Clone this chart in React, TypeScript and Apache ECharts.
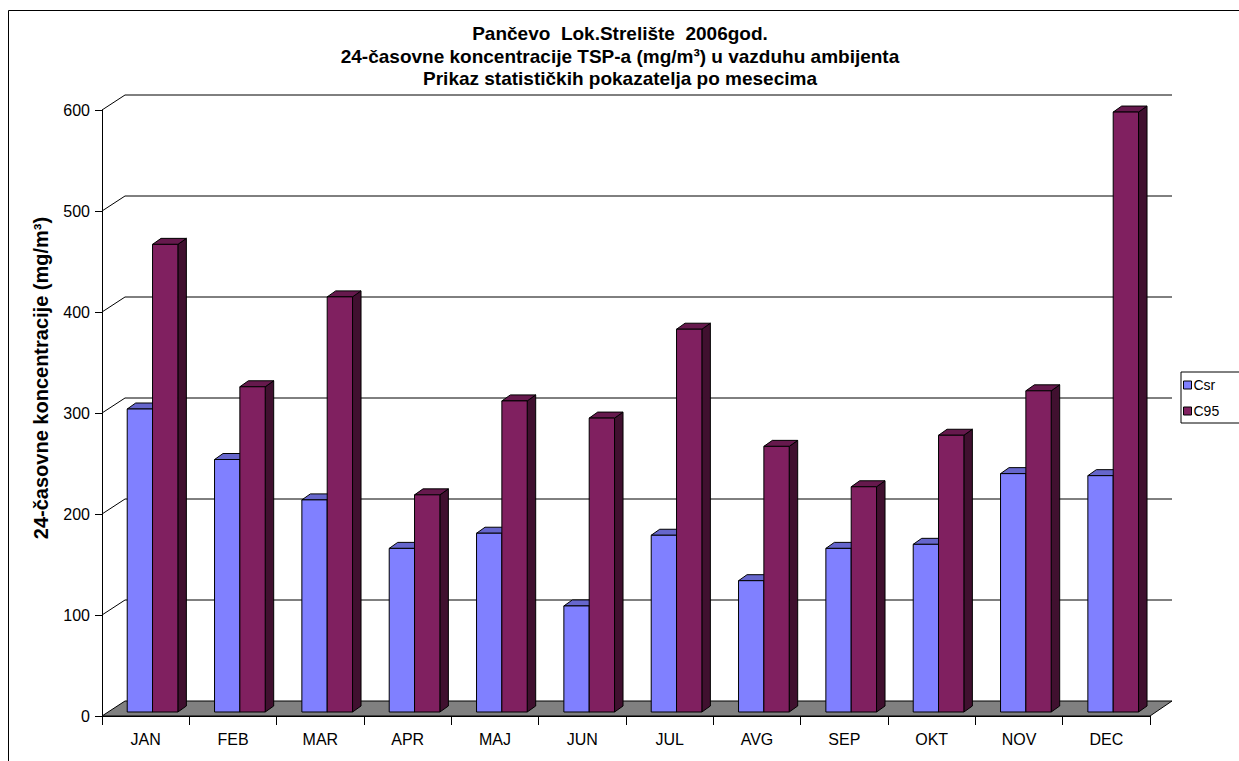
import React, { useEffect, useRef } from "react";
import * as echarts from "echarts";

const CATEGORIES = ["JAN", "FEB", "MAR", "APR", "MAJ", "JUN", "JUL", "AVG", "SEP", "OKT", "NOV", "DEC"];
const CSR = [300, 250, 210, 162, 177, 105, 175, 130, 162, 166, 236, 234];
const C95 = [463, 322, 411, 215, 308, 291, 379, 263, 223, 274, 318, 594];
const GRID_VALUES = [100, 200, 300, 400, 500, 600];
const TITLE_LINES = [
  "Pančevo  Lok.Strelište  2006god.",
  "24-časovne koncentracije TSP-a (mg/m³) u vazduhu ambijenta",
  "Prikaz statističkih pokazatelja po mesecima",
];
const Y_NAME = "24-časovne koncentracije (mg/m³)";

const FONT = "'Liberation Sans', Arial, sans-serif";
const WALL_DX = 23;
const WALL_DY = -15;
const PLANE_DX = 6.3;
const PLANE_DY = -4;
const BAR_DX = 8.5;
const BAR_DY = -6;

const SERIES_STYLE = [
  { front: "#8080FF", top: "#6666CC", side: "#404080" },
  { front: "#802060", top: "#66194D", side: "#40102F" },
];

function barRenderer(sIdx: number) {
  const c = SERIES_STYLE[sIdx];
  return (params: any, api: any) => {
    const cs = params.coordSys;
    const idx = api.value(0);
    const v = api.value(1);
    const bw = cs.width / CATEGORIES.length;
    const w = bw * 0.29;
    const x0 = cs.x + idx * bw + bw * 0.2165 + PLANE_DX + sIdx * w;
    const base = api.coord([idx, 0])[1] + PLANE_DY;
    const top = api.coord([idx, v])[1] + PLANE_DY;
    const stroke = { stroke: "#000", lineWidth: 1 };
    return {
      type: "group",
      children: [
        {
          type: "polygon",
          shape: { points: [[x0 + w, top], [x0 + w + BAR_DX, top + BAR_DY], [x0 + w + BAR_DX, base + BAR_DY], [x0 + w, base]] },
          style: { fill: c.side, ...stroke },
        },
        {
          type: "polygon",
          shape: { points: [[x0, top], [x0 + BAR_DX, top + BAR_DY], [x0 + w + BAR_DX, top + BAR_DY], [x0 + w, top]] },
          style: { fill: c.top, ...stroke },
        },
        {
          type: "rect",
          shape: { x: x0, y: top, width: w, height: base - top },
          style: { fill: c.front, ...stroke },
        },
      ],
    };
  };
}

export default function App() {
  const ref = useRef<HTMLDivElement>(null);
  useEffect(() => {
    if (!ref.current) return;
    const chart = echarts.init(ref.current, undefined, { renderer: "svg" });
    const option: any = {
      animation: false,
      backgroundColor: "#fff",
      grid: { left: 102, top: 110, width: 1048, height: 606 },
      xAxis: {
        type: "category",
        data: CATEGORIES,
        boundaryGap: true,
        axisLine: { show: true, lineStyle: { color: "#000", width: 1 } },
        axisTick: { show: true, length: 9, lineStyle: { color: "#000" } },
        axisLabel: { color: "#000", fontSize: 16, fontFamily: FONT, margin: 15 },
        splitLine: { show: false },
      },
      yAxis: {
        type: "value",
        min: 0,
        max: 600,
        interval: 100,
        axisLine: { show: true, lineStyle: { color: "#000", width: 1 } },
        axisTick: { show: true, length: 7, lineStyle: { color: "#000" } },
        axisLabel: { color: "#000", fontSize: 16, fontFamily: FONT, margin: 12 },
        splitLine: { show: false },
      },
      legend: {
        data: [
          { name: "Csr", itemStyle: { color: SERIES_STYLE[0].front } },
          { name: "C95", itemStyle: { color: SERIES_STYLE[1].front } },
        ],
        orient: "vertical",
        left: 1181,
        top: 372,
        icon: "rect",
        itemWidth: 8,
        itemHeight: 8,
        itemGap: 12,
        padding: [6, 40, 5, 2],
        borderColor: "#000",
        borderWidth: 1,
        backgroundColor: "#fff",
        itemStyle: { borderColor: "#000", borderWidth: 1 },
        textStyle: { color: "#000", fontSize: 14, fontFamily: FONT, padding: [0, 0, 0, -3] },
      },
      graphic: [
        {
          type: "rect",
          silent: true,
          z: -10,
          shape: { x: 8.5, y: 10.5, width: 1300, height: 800 },
          style: { fill: "none", stroke: "#000", lineWidth: 1 },
        },
        {
          type: "text",
          x: 620,
          y: 56,
          style: {
            text: TITLE_LINES.join("\n"),
            align: "center",
            verticalAlign: "middle",
            font: `bold 19px ${FONT}`,
            lineHeight: 22.5,
            fill: "#000",
          },
        },
        {
          type: "text",
          x: 41,
          y: 378,
          rotation: Math.PI / 2,
          style: {
            text: Y_NAME,
            align: "center",
            verticalAlign: "middle",
            font: `bold 20px ${FONT}`,
            fill: "#000",
          },
        },
      ],
      series: [
        {
          type: "custom",
          name: "grid",
          clip: false,
          silent: true,
          data: GRID_VALUES.map((v) => [0, v]),
          encode: { x: 0, y: 1 },
          renderItem: (params: any, api: any) => {
            const cs = params.coordSys;
            const y = api.coord([0, api.value(1)])[1];
            return {
              type: "polyline",
              shape: {
                points: [
                  [cs.x, y],
                  [cs.x + WALL_DX, y + WALL_DY],
                  [cs.x + cs.width + WALL_DX - 1, y + WALL_DY],
                ],
              },
              style: { fill: "none", stroke: "#000", lineWidth: 1 },
            };
          },
        },
        {
          type: "custom",
          name: "floor",
          clip: false,
          silent: true,
          data: [[0, 0]],
          encode: { x: 0, y: 1 },
          renderItem: (params: any, api: any) => {
            const cs = params.coordSys;
            const y = api.coord([0, 0])[1];
            return {
              type: "polygon",
              shape: {
                points: [
                  [cs.x, y],
                  [cs.x + cs.width, y],
                  [cs.x + cs.width + WALL_DX - 1, y + WALL_DY],
                  [cs.x + WALL_DX, y + WALL_DY],
                ],
              },
              style: { fill: "#808080", stroke: "#000", lineWidth: 1 },
            };
          },
        },
        {
          type: "custom",
          name: "Csr",
          clip: false,
          itemStyle: { color: SERIES_STYLE[0].front, borderColor: "#000", borderWidth: 1 },
          data: CSR.map((v, i) => [i, v]),
          encode: { x: 0, y: 1 },
          renderItem: barRenderer(0),
        },
        {
          type: "custom",
          name: "C95",
          clip: false,
          itemStyle: { color: SERIES_STYLE[1].front, borderColor: "#000", borderWidth: 1 },
          data: C95.map((v, i) => [i, v]),
          encode: { x: 0, y: 1 },
          renderItem: barRenderer(1),
        },
      ],
    };
    chart.setOption(option);
    return () => chart.dispose();
  }, []);
  return (
    <div
      ref={ref}
      style={{ position: "absolute", left: 0, top: 0, width: 1239, height: 761, background: "#fff" }}
    />
  );
}
